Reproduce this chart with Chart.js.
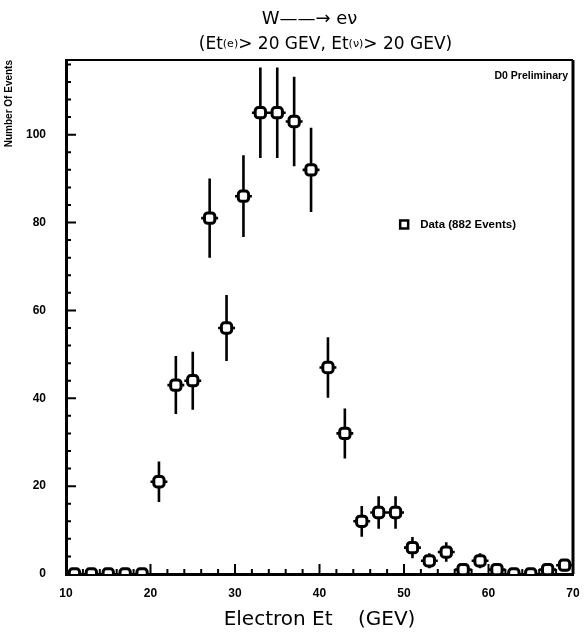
<!DOCTYPE html>
<html>
<head>
<meta charset="utf-8">
<title>W to e nu - electron Et</title>
<script src="https://cdn.jsdelivr.net/npm/chart.js@4.4.1/dist/chart.umd.min.js"></script>
<style>
    html, body { margin: 0; padding: 0; background: #fff; }
    canvas { display: block; }
</style>
</head>
<body>
<canvas id="etChart" width="586" height="640"></canvas>
<script>
'use strict';

// 2 GeV bins, centred on odd values
const binCentres   = [11, 13, 15, 17, 19, 21, 23, 25, 27, 29, 31, 33, 35, 37, 39,
                      41, 43, 45, 47, 49, 51, 53, 55, 57, 59, 61, 63, 65, 67, 69];
const eventCounts  = [0, 0, 0, 0, 0, 21, 43, 44, 81, 56, 86, 105, 105, 103, 92,
                      47, 32, 12, 14, 14, 6, 3, 5, 1, 3, 1, 0, 0, 1, 2];
const countErrors  = [0, 0, 0, 0, 0, 4.6, 6.6, 6.6, 9, 7.5, 9.3, 10.3, 10.3, 10.2, 9.6,
                      6.9, 5.7, 3.5, 3.7, 3.7, 2.4, 1.7, 2.2, 1, 1.7, 1, 0, 0, 1, 1.4];
const binHalfWidth = 1;

const xTickLabels = [10, 20, 30, 40, 50, 60, 70];
const yTickLabels = [0, 20, 40, 60, 80, 100];

const INK = '#000';

let points = binCentres.map((c, i) => ({x: c, y: eventCounts[i]}));

// vertical (statistical) and horizontal (bin width) bars, drawn under the markers
const errorBars = {
    id: 'errorBars',
    beforeDatasetsDraw(chart) {
        const {ctx, scales: {x, y}, chartArea} = chart;
        ctx.save();
        ctx.beginPath();
        ctx.rect(chartArea.left, chartArea.top, chartArea.right - chartArea.left, chartArea.bottom - chartArea.top);
        ctx.clip();
        ctx.strokeStyle = INK;
        ctx.lineWidth   = 2.6;
        ctx.beginPath();
        for (let i = 0; i < binCentres.length; i++) {
            if (eventCounts[i] === 0) continue;
            let px = x.getPixelForValue(binCentres[i]);
            let py = y.getPixelForValue(eventCounts[i]);
            ctx.moveTo(px, y.getPixelForValue(eventCounts[i] - countErrors[i]));
            ctx.lineTo(px, y.getPixelForValue(eventCounts[i] + countErrors[i]));
            ctx.moveTo(x.getPixelForValue(binCentres[i] - binHalfWidth), py);
            ctx.lineTo(x.getPixelForValue(binCentres[i] + binHalfWidth), py);
        }
        ctx.stroke();
        ctx.restore();
    }
};

// two-line heading; the (e) and (nu) tags are set smaller
const heading = {
    id: 'heading',
    afterDraw(chart) {
        const {ctx, chartArea: a} = chart;
        const big   = '17px "DejaVu Sans", sans-serif';
        const small = '11px "DejaVu Sans", sans-serif';
        const cx    = (a.left + a.right) / 2;
        ctx.save();
        ctx.fillStyle    = INK;
        ctx.textBaseline = 'alphabetic';

        ctx.font      = '18px "DejaVu Sans", sans-serif';
        ctx.textAlign = 'center';
        ctx.fillText('W\u2014\u2014\u2192 e\u03BD', cx - 10, 24);

        const parts = [
            ['(Et', big], ['(e)', small], ['> 20 GEV, Et', big], ['(\u03BD)', small], ['> 20 GEV)', big]
        ];
        let total = 0;
        parts.forEach(p => { ctx.font = p[1]; total += ctx.measureText(p[0]).width; });
        let px = cx + 6 - total / 2;
        ctx.textAlign = 'left';
        parts.forEach(p => {
            ctx.font = p[1];
            ctx.fillText(p[0], px, p[1] === small ? 47 : 49);
            px += ctx.measureText(p[0]).width;
        });
        ctx.restore();
    }
};

// frame, inward ticks, legend and the "preliminary" tag
const frameDecor = {
    id: 'frameDecor',
    beforeDatasetsDraw(chart) {
        const {ctx, scales: {x, y}, chartArea: a} = chart;
        ctx.save();
        ctx.strokeStyle = INK;

        ctx.lineWidth = 1.8;
        ctx.beginPath();
        ctx.moveTo(a.left, a.top);
        ctx.lineTo(a.right, a.top);
        ctx.stroke();
        ctx.lineWidth = 3;
        ctx.beginPath();
        ctx.moveTo(a.right, a.top);
        ctx.lineTo(a.right, a.bottom);
        ctx.stroke();

        ctx.lineWidth = 2;
        ctx.beginPath();
        for (let v = 10; v <= 70; v += 2) {
            let px  = x.getPixelForValue(v);
            let len = (v % 10 === 0) ? 10 : 5;
            ctx.moveTo(px, a.bottom);
            ctx.lineTo(px, a.bottom - len);
        }
        for (let v = 0; v <= y.max; v += 4) {
            let py  = y.getPixelForValue(v);
            let len = (v % 20 === 0) ? 10 : 5;
            ctx.moveTo(a.left, py);
            ctx.lineTo(a.left + len, py);
        }
        ctx.stroke();

        ctx.fillStyle    = INK;
        ctx.font         = 'bold 10.5px "Liberation Sans", Arial, sans-serif';
        ctx.textAlign    = 'right';
        ctx.textBaseline = 'middle';
        ctx.fillText('D0 Preliminary', a.right - 5, a.top + 16);

        // legend entry
        let lx = a.left + (a.right - a.left) * 0.667;
        let ly = a.top + (a.bottom - a.top) * 0.32;
        ctx.lineWidth = 2.5;
        ctx.fillStyle = '#fff';
        ctx.fillRect(lx - 4, ly - 4, 8, 8);
        ctx.strokeRect(lx - 4, ly - 4, 8, 8);
        ctx.fillStyle = INK;
        ctx.font      = 'bold 11.5px "Liberation Sans", Arial, sans-serif';
        ctx.textAlign = 'left';
        ctx.fillText('Data (882 Events)', lx + 16, ly);
        ctx.restore();
    }
};

const tickFont = {family: '"Liberation Sans", Arial, sans-serif', size: 12, weight: 'bold'};

new Chart(document.getElementById('etChart'), {
    type: 'scatter',
    data: {
        datasets: [{
            data:                 points,
            pointStyle:           'rectRounded',
            pointRadius:          6,
            pointHoverRadius:     6,
            pointBackgroundColor: '#fff',
            pointBorderColor:     INK,
            pointBorderWidth:     3
        }]
    },
    options: {
        responsive: false,
        animation:  false,
        events:     [],
        layout: {padding: {left: 0, right: 13, top: 60, bottom: 0}},
        plugins: {
            legend:  {display: false},
            tooltip: {enabled: false},
            title:   {display: false}
        },
        scales: {
            x: {
                type: 'linear',
                min:  10,
                max:  70,
                afterFit: (scale) => { scale.height = 66; },
                grid:   {display: false},
                border: {display: true, width: 3, color: INK},
                ticks: {
                    stepSize:    10,
                    padding:     4,
                    maxRotation: 0,
                    color:       INK,
                    font:        tickFont,
                    callback:    (v) => xTickLabels.includes(v) ? String(v) : ''
                },
                title: {
                    display: true,
                    text:    'Electron Et    (GEV)',
                    color:   INK,
                    font:    {family: '"DejaVu Sans", sans-serif', size: 20},
                    padding: {top: 0, bottom: 8}
                }
            },
            y: {
                type: 'linear',
                min:  0,
                max:  117,
                afterFit: (scale) => { scale.width = 66; },
                grid:   {display: false},
                border: {display: true, width: 3, color: INK},
                ticks: {
                    stepSize: 20,
                    padding:  12,
                    color:    INK,
                    font:     tickFont,
                    callback: (v) => yTickLabels.includes(v) ? String(v) : ''
                },
                title: {
                    display: true,
                    align:   'end',
                    text:    'Number Of Events',
                    color:   INK,
                    font:    {family: '"Liberation Sans", Arial, sans-serif', size: 10, weight: 'bold'},
                    padding: {top: 3, bottom: 0}
                }
            }
        }
    },
    plugins: [frameDecor, errorBars, heading]
});
</script>
</body>
</html>
